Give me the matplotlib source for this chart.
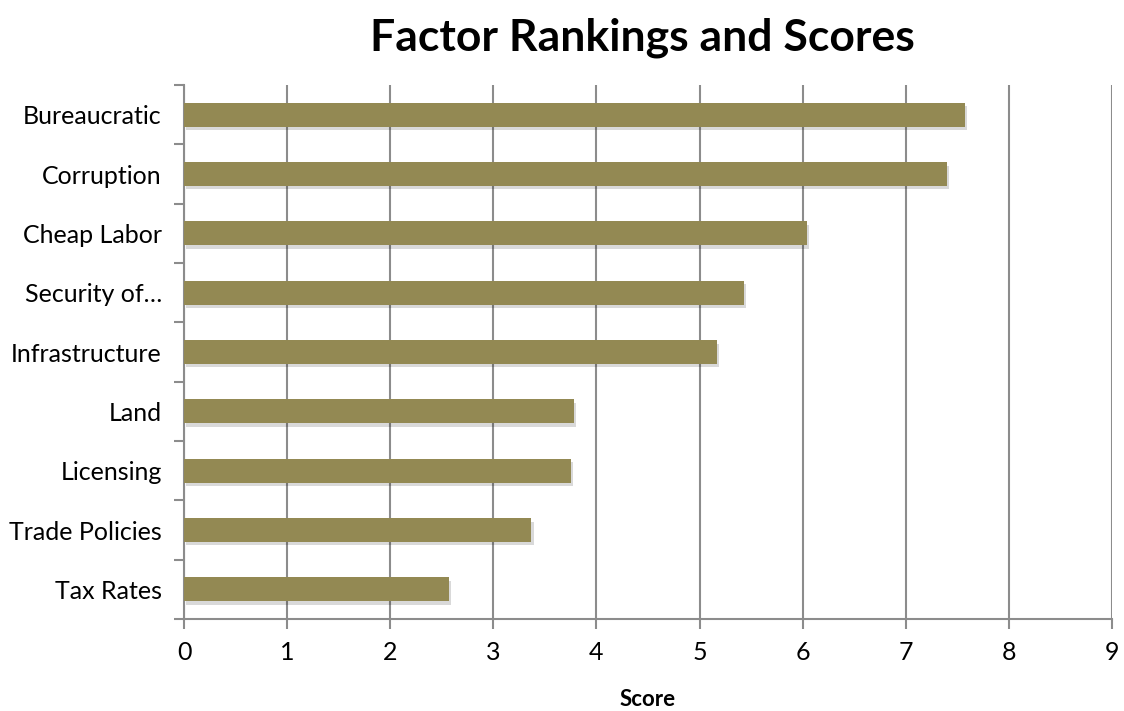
import matplotlib
matplotlib.use("Agg")
import matplotlib.pyplot as plt
import matplotlib.patheffects as pe
import numpy as np

plt.rcParams['font.family'] = ['Lato', 'DejaVu Sans']

# data (top to bottom as shown)
factors = ['Bureaucratic', 'Corruption', 'Cheap Labor', 'Security of\u2026', 'Infrastructure',
           'Land', 'Licensing', 'Trade Policies', 'Tax Rates']
scores = [7.57, 7.40, 6.04, 5.43, 5.17, 3.78, 3.75, 3.37, 2.57]

bar_color = '#938953'
grid_color = '#8c8c8c'

fig = plt.figure(figsize=(11.24, 7.11), dpi=100)
ax = fig.add_axes([184 / 1124, 1 - 619 / 711, (1112 - 184) / 1124, (619 - 85) / 711])

y = np.arange(len(factors))[::-1]
bars = ax.barh(y, scores, height=0.4, color=bar_color, zorder=3)
for b in bars:
    b.set_path_effects([pe.SimplePatchShadow(offset=(1.5, -2.5), shadow_rgbFace='#000000', alpha=0.15),
                        pe.Normal()])

ax.set_xlim(0, 9)
ax.set_ylim(-0.5, len(factors) - 0.5)
ax.set_xticks(range(10))
ax.set_yticks(y)
ax.set_yticklabels(factors)
ax.set_yticks(np.arange(-0.5, len(factors)), minor=True)

ax.xaxis.grid(True, color=grid_color, linewidth=1.5, zorder=0)
ax.set_axisbelow(True)

for s in ['top', 'right']:
    ax.spines[s].set_visible(False)
for s in ['left', 'bottom']:
    ax.spines[s].set_color(grid_color)
    ax.spines[s].set_linewidth(1.5)

ax.tick_params(axis='y', which='major', length=0, pad=16, labelsize=18)
ax.tick_params(axis='y', which='minor', length=7, width=1.5, color=grid_color, direction='out')
ax.tick_params(axis='x', which='major', length=7, width=1.5, color=grid_color, direction='out',
               labelsize=18, pad=9)

ax.set_xlabel('Score', fontsize=16, fontweight='bold', labelpad=18)
fig.text(642 / 1124, 1 - 38 / 711, 'Factor Rankings and Scores', ha='center', va='center',
         fontsize=32, fontweight='bold')

fig.savefig('out.png', dpi=100)
